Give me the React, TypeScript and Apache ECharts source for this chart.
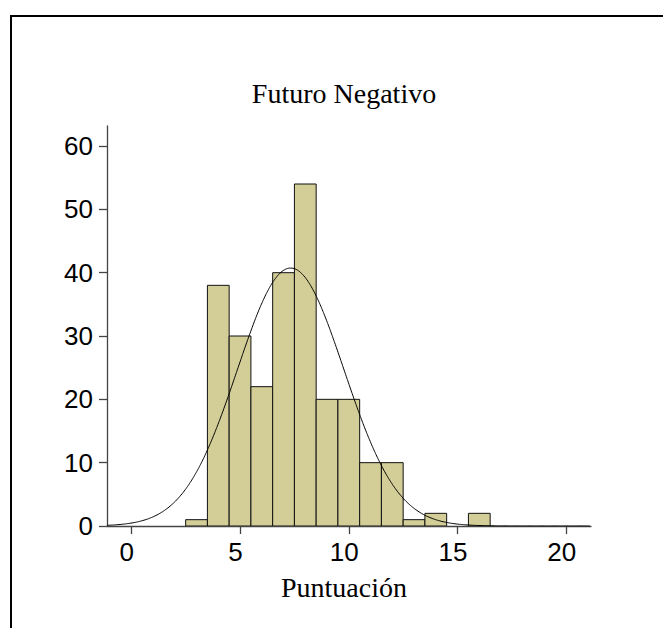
import React, { useEffect, useRef } from "react";
import * as echarts from "echarts";

const chartTitle = "Futuro Negativo";
const xAxisTitle = "Puntuación";
const binCenters = [3, 4, 5, 6, 7, 8, 9, 10, 11, 12, 13, 14, 15, 16];
const counts = [1, 38, 30, 22, 40, 54, 20, 20, 10, 10, 1, 2, 0, 2];
const xTickValues = [0, 5, 10, 15, 20];
const yTickValues = [0, 10, 20, 30, 40, 50, 60];
const binWidth = 1;
const xRange = [-1.117, 21.136];
const yRange = [0, 63.16];

// Fitted normal curve, derived from the histogram's own mean and standard deviation
const total = counts.reduce((a, b) => a + b, 0);
const mean = counts.reduce((s, c, i) => s + c * binCenters[i], 0) / total;
const sd = Math.sqrt(
  counts.reduce((s, c, i) => s + c * (binCenters[i] - mean) ** 2, 0) / (total - 1)
);
const curveXs: number[] = [];
for (let x = xRange[0]; x <= xRange[1] + 1e-9; x += 0.1) curveXs.push(x);
const curveData = curveXs.map((x) => [
  x,
  (total * binWidth) / (sd * Math.sqrt(2 * Math.PI)) * Math.exp(-((x - mean) ** 2) / (2 * sd * sd)),
]);

const barData = binCenters.map((x, i) => [x, counts[i]]);

export default function App() {
  const ref = useRef<HTMLDivElement>(null);
  useEffect(() => {
    if (!ref.current) return;
    const chart = echarts.init(ref.current, undefined, { renderer: "svg" });
    const axisColor = "#444";
    chart.setOption({
      animation: false,
      backgroundColor: "#fff",
      grid: { left: 107, top: 126, width: 484, height: 400 },
      xAxis: {
        type: "value",
        min: xRange[0],
        max: xRange[1],
        splitLine: { show: false },
        axisLine: { onZero: false, lineStyle: { color: axisColor, width: 1.3 } },
        axisTick: {
          show: true,
          length: 8,
          customValues: xTickValues,
          lineStyle: { color: axisColor, width: 1.3 },
        },
        axisLabel: {
          customValues: xTickValues,
          margin: 13,
          padding: [0, 9, 0, 0],
          color: "#000",
          fontFamily: "Liberation Sans",
          fontSize: 26,
        },
      },
      yAxis: {
        type: "value",
        min: yRange[0],
        max: yRange[1],
        splitLine: { show: false },
        axisLine: { show: true, onZero: false, lineStyle: { color: axisColor, width: 1.3 } },
        axisTick: {
          show: true,
          length: 8,
          customValues: yTickValues,
          lineStyle: { color: axisColor, width: 1.3 },
        },
        axisLabel: {
          customValues: yTickValues,
          margin: 14,
          padding: [0, 0, 4, 0],
          color: "#000",
          fontFamily: "Liberation Sans",
          fontSize: 26,
        },
      },
      series: [
        {
          type: "custom",
          data: barData,
          encode: { x: 0, y: 1 },
          clip: true,
          z: 2,
          renderItem: (params: any, api: any) => {
            const x = api.value(0);
            const y = api.value(1);
            if (!y) return null;
            const p0 = api.coord([x - binWidth / 2, y]);
            const p1 = api.coord([x + binWidth / 2, 0]);
            return {
              type: "rect",
              shape: { x: p0[0], y: p0[1], width: p1[0] - p0[0], height: p1[1] - p0[1] },
              style: { fill: "#d3ce97", stroke: "#111", lineWidth: 1 },
            };
          },
        },
        {
          type: "line",
          data: curveData,
          showSymbol: false,
          symbol: "none",
          smooth: true,
          z: 3,
          lineStyle: { color: "#000", width: 1 },
        },
      ],
      graphic: [
        {
          type: "rect",
          shape: { x: 11, y: 16, width: 900, height: 900 },
          style: { fill: "none", stroke: "#000", lineWidth: 2 },
          silent: true,
        },
        {
          type: "text",
          x: 344,
          y: 93.5,
          style: {
            text: chartTitle,
            fill: "#000",
            font: "28px 'Liberation Serif'",
            textAlign: "center",
            textVerticalAlign: "middle",
          },
        },
        {
          type: "text",
          x: 344,
          y: 587,
          style: {
            text: xAxisTitle,
            fill: "#000",
            font: "28px 'Liberation Serif'",
            textAlign: "center",
            textVerticalAlign: "middle",
          },
        },
      ],
    });
    return () => chart.dispose();
  }, []);
  return (
    <div
      ref={ref}
      style={{ position: "absolute", left: 0, top: 0, width: 663, height: 628 }}
    />
  );
}
